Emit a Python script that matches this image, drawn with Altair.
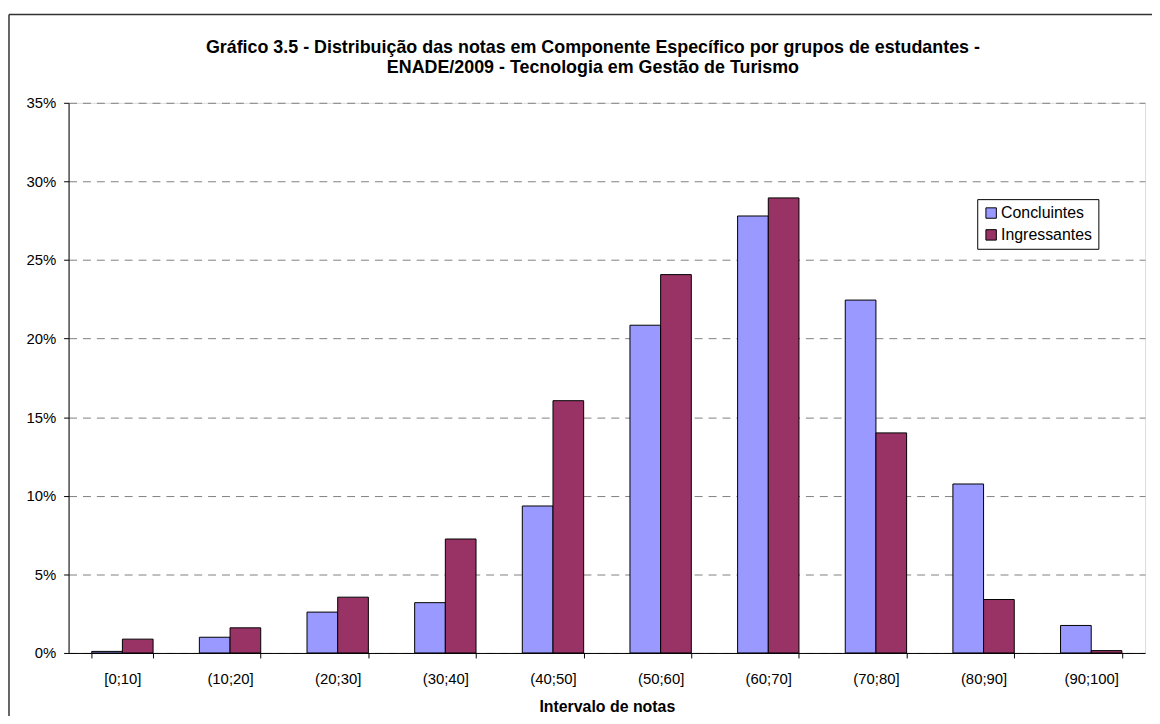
import altair as alt
import pandas as pd

categories = ["[0;10]", "(10;20]", "(20;30]", "(30;40]", "(40;50]",
              "(50;60]", "(60;70]", "(70;80]", "(80;90]", "(90;100]"]
concluintes = [0.10, 1.00, 2.60, 3.20, 9.35, 20.85, 27.80, 22.45, 10.75, 1.75]
ingressantes = [0.88, 1.60, 3.55, 7.25, 16.05, 24.07, 28.95, 14.00, 3.40, 0.15]
series = ["Concluintes", "Ingressantes"]
colors = ["#9999FF", "#993366"]
y_ticks = [0, 0.05, 0.10, 0.15, 0.20, 0.25, 0.30, 0.35]

rows = []
for i, c in enumerate(categories):
    rows.append({"cat": c, "grupo": series[0], "val": concluintes[i] / 100})
    rows.append({"cat": c, "grupo": series[1], "val": ingressantes[i] / 100})
df = pd.DataFrame(rows)

FONT = "Liberation Sans"
W, H = 1084, 554

bars = alt.Chart(df).mark_bar(stroke="black", strokeWidth=1).encode(
    x=alt.X("cat:N", sort=categories,
            scale=alt.Scale(paddingInner=0.43, paddingOuter=0.215),
            axis=alt.Axis(title="Intervalo de notas", labelAngle=0, tickBand="extent",
                          tickSize=5, tickColor="black", domainColor="black",
                          labelFont=FONT, labelFontSize=15, labelColor="black",
                          labelPadding=14, titleFont=FONT, titleFontSize=16,
                          titleFontWeight="bold", titleColor="black", titlePadding=12,
                          grid=False)),
    xOffset=alt.XOffset("grupo:N", sort=series),
    y=alt.Y("val:Q", scale=alt.Scale(domain=[0, 0.35], nice=False),
            axis=alt.Axis(title=None, format=".0%", values=y_ticks, tickSize=5,
                          tickColor="black", domainColor="black",
                          labelFont=FONT, labelFontSize=15, labelColor="black",
                          labelPadding=8, grid=True, gridColor="#808080",
                          gridDash=[8, 6], gridWidth=1)),
    color=alt.Color("grupo:N", sort=series,
                    scale=alt.Scale(domain=series, range=colors),
                    legend=alt.Legend(title=None, orient="none", legendX=915, legendY=97,
                                      symbolType="square", symbolSize=110,
                                      symbolStrokeColor="black", symbolStrokeWidth=1,
                                      labelFont=FONT, labelFontSize=16, labelColor="black",
                                      strokeColor="black", fillColor="white",
                                      padding=6, rowPadding=6, labelOffset=2)),
)

frame_df = pd.DataFrame({"k": [0]})
frame_top = alt.Chart(frame_df).mark_rule(color="#333333", strokeWidth=1.5).encode(
    x=alt.value(-60), x2=alt.value(W + 20), y=alt.value(-89))
frame_left = alt.Chart(frame_df).mark_rule(color="#333333", strokeWidth=1.5).encode(
    x=alt.value(-60), y=alt.value(-89), y2=alt.value(H + 80))

chart = alt.layer(frame_top, frame_left, bars).properties(
    width=W, height=H,
    title=alt.TitleParams(
        ["Gráfico 3.5 - Distribuição das notas em Componente Específico por grupos de estudantes -",
         "ENADE/2009 - Tecnologia em Gestão de Turismo"],
        font=FONT, fontSize=18, fontWeight="bold", color="black",
        anchor="middle", dx=-14, offset=0, dy=64, lineHeight=20),
    autosize=alt.AutoSizeParams(type="none"),
    padding={"left": 61, "top": 93, "right": 7, "bottom": 61},
).configure_view(stroke="#808080", strokeWidth=1).configure(background="white")

chart.save("out.html", embed_options={"renderer": "svg", "actions": False})
